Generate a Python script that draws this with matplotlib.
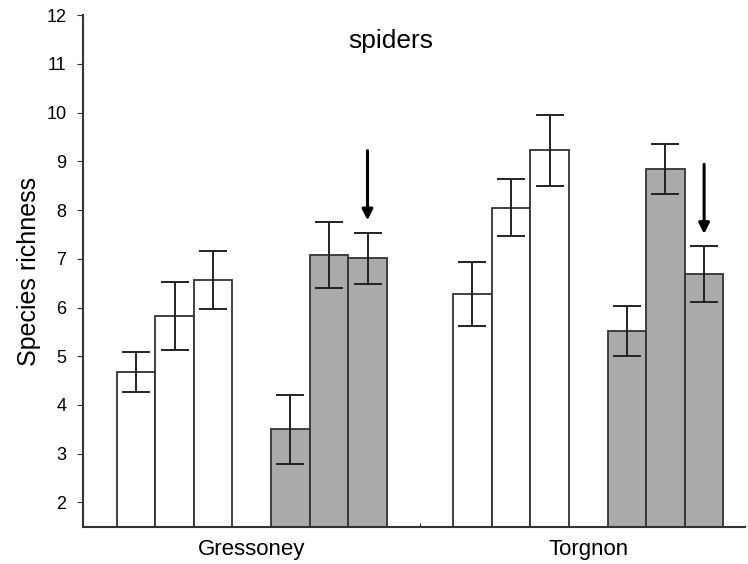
import numpy as np
import matplotlib
matplotlib.use("Agg")
import matplotlib.pyplot as plt

plt.rcParams["font.family"] = ["Liberation Sans", "DejaVu Sans"]

# ── data ───────────────────────────────────────────────
sites = ["Gressoney", "Torgnon"]
white_means = [[4.67, 5.82, 6.57], [6.28, 8.05, 9.23]]
white_errs = [[0.41, 0.70, 0.60], [0.65, 0.59, 0.73]]
gray_means = [[3.50, 7.08, 7.01], [5.52, 8.84, 6.69]]
gray_errs = [[0.71, 0.67, 0.53], [0.52, 0.51, 0.57]]
arrow_bar = 2  # third gray bar of each site is marked with an arrow

group_step = 8.72
fig, ax = plt.subplots(figsize=(7.48, 5.64), dpi=100)
fig.subplots_adjust(left=0.111, right=0.996, top=0.973, bottom=0.066)

for g, site in enumerate(sites):
    x0 = g * group_step
    xw = x0 + np.arange(3)
    xg = x0 + 4 + np.arange(3)
    ax.bar(xw, white_means[g], width=1.0, color="white", edgecolor="#333333", linewidth=1.3, zorder=2)
    ax.bar(xg, gray_means[g], width=1.0, color="#aaaaaa", edgecolor="#333333", linewidth=1.3, zorder=2)
    ax.errorbar(xw, white_means[g], yerr=white_errs[g], fmt="none", ecolor="#222222",
                elinewidth=1.4, capsize=10, capthick=1.4, zorder=3)
    ax.errorbar(xg, gray_means[g], yerr=gray_errs[g], fmt="none", ecolor="#222222",
                elinewidth=1.4, capsize=10, capthick=1.4, zorder=3)
    # arrow above the marked bar
    tip = gray_means[g][arrow_bar] + gray_errs[g][arrow_bar] + 0.25
    ax.annotate("", xy=(xg[arrow_bar], tip), xytext=(xg[arrow_bar], tip + 1.43),
                arrowprops=dict(arrowstyle="-|>", color="black", lw=2.2, mutation_scale=16,
                                shrinkA=0, shrinkB=0), zorder=4)
    ax.text(x0 + 3, -0.045, site, transform=ax.get_xaxis_transform(),
            ha="center", va="center", fontsize=16)

ax.set_xlim(-1.37, 15.78)
ax.set_ylim(1.5, 12)
ax.set_yticks(range(2, 13))
ax.set_xticks([(6 + group_step) / 2])
ax.set_xticklabels([])
ax.tick_params(axis="x", direction="in", length=3, color="#333333")
ax.tick_params(axis="y", direction="out", length=4, color="#333333", labelsize=13, pad=8)

for s in ["top", "right"]:
    ax.spines[s].set_visible(False)
for s in ["left", "bottom"]:
    ax.spines[s].set_linewidth(1.5)
    ax.spines[s].set_color("#333333")

ax.set_ylabel("Species richness", fontsize=18, labelpad=4)
ax.text(0.465, 0.95, "spiders", transform=ax.transAxes, ha="center", va="center", fontsize=19)

plt.savefig("out.png", dpi=100)
